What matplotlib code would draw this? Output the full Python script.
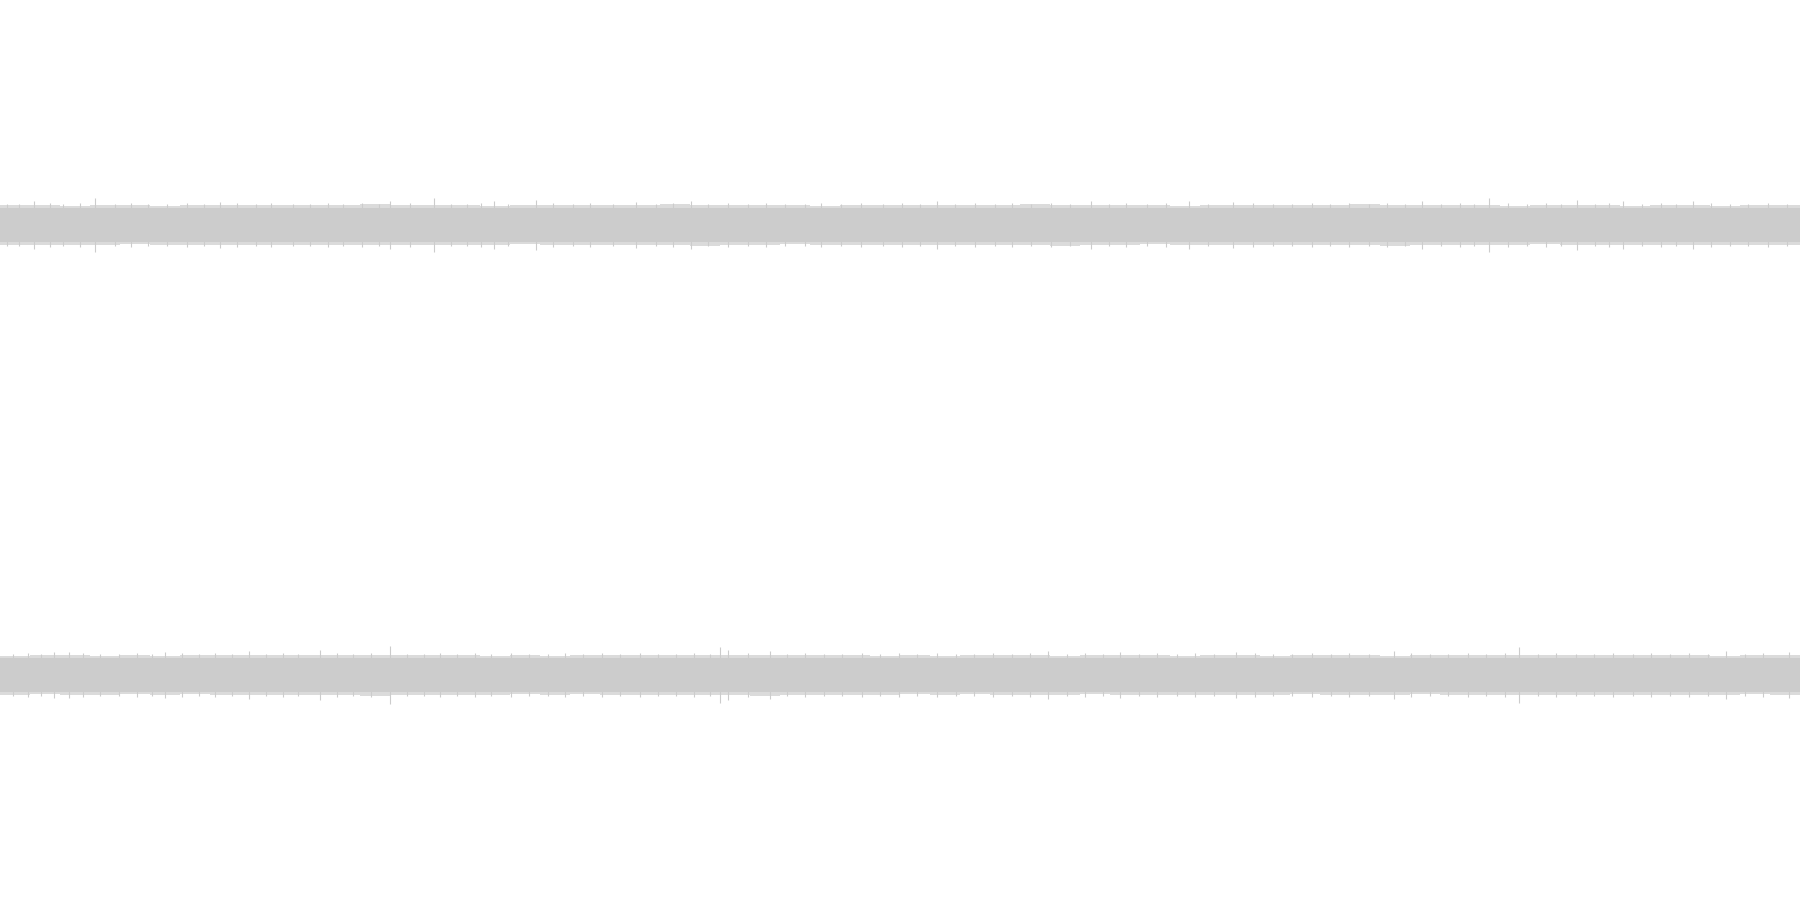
import matplotlib
matplotlib.use('Agg')
import matplotlib.pyplot as plt
import numpy as np


#------------------------- stereo noise waveform ----------------------------------
duration = 30.0          # seconds shown
wave_color = '#cccccc'

# outer edge of the noise band, one value per 0.5 s bin, in thousandths of full scale
left_hi = [87, 88, 86, 88, 87, 86, 88, 87, 89, 88, 88, 91, 92, 89, 87, 88, 86, 87, 88, 87,
           88, 90, 92, 91, 89, 88, 87, 86, 87, 88, 87, 88, 89, 90, 92, 91, 90, 88, 87, 86,
           87, 88, 87, 88, 89, 92, 91, 89, 88, 87, 86, 87, 88, 87, 86, 88, 87, 86, 88, 87]
left_lo = [88, 87, 87, 88, 86, 87, 88, 88, 89, 87, 89, 90, 91, 90, 88, 87, 87, 86, 88, 88,
           87, 89, 91, 92, 90, 88, 86, 87, 88, 87, 88, 87, 89, 91, 91, 92, 89, 88, 86, 87,
           88, 87, 88, 87, 90, 91, 92, 90, 87, 88, 87, 86, 87, 88, 87, 87, 88, 87, 87, 88]
right_hi = [86, 87, 88, 86, 87, 86, 87, 88, 87, 88, 90, 91, 91, 90, 88, 87, 86, 87, 86, 87,
            88, 87, 88, 90, 91, 91, 90, 88, 87, 86, 87, 86, 87, 88, 87, 86, 87, 88, 87, 86,
            88, 87, 86, 87, 88, 87, 86, 87, 88, 87, 88, 89, 90, 90, 89, 88, 87, 86, 87, 88]
right_lo = [87, 86, 88, 87, 86, 87, 86, 87, 88, 87, 89, 90, 92, 89, 87, 88, 87, 86, 87, 86,
            87, 88, 87, 89, 90, 92, 89, 87, 88, 87, 86, 87, 86, 87, 88, 87, 86, 87, 88, 87,
            87, 88, 87, 86, 87, 88, 87, 86, 87, 88, 87, 88, 90, 91, 88, 87, 88, 87, 86, 87]
core_level = 75          # solid part of the band, thousandths

# isolated peaks that stick out of the band
left_peak_t = [0.57, 1.58, 3.67, 6.50, 7.23, 8.23, 8.93, 10.60, 11.52, 15.62,
               18.18, 19.82, 20.55, 23.70, 24.82, 26.28, 27.05, 28.22]
left_peak_a = [0.105, 0.120, 0.104, 0.106, 0.118, 0.105, 0.112, 0.104, 0.108, 0.106,
               0.108, 0.107, 0.104, 0.105, 0.120, 0.110, 0.108, 0.106]
right_peak_t = [0.90, 1.15, 2.75, 4.15, 5.33, 6.50, 12.00, 12.13, 12.83, 17.47,
                18.67, 20.60, 23.23, 25.32, 28.77, 29.82]
right_peak_a = [0.103, 0.104, 0.104, 0.106, 0.112, 0.128, 0.126, 0.110, 0.108, 0.106,
                0.104, 0.104, 0.108, 0.124, 0.106, 0.104]

# smaller excursions just past the band edge
left_minor_t = [0.12, 0.31, 0.84, 1.05, 1.33, 1.91, 2.18, 2.46, 2.79, 3.12, 3.40, 3.95, 4.27,
                4.52, 4.88, 5.16, 5.47, 5.72, 6.03, 6.31, 6.84, 7.52, 7.78, 8.01, 8.47, 9.21,
                9.55, 9.84, 10.22, 10.93, 11.21, 11.80, 12.14, 12.46, 12.77, 13.08, 13.42,
                13.69, 14.02, 14.35, 14.71, 15.03, 15.34, 15.91, 16.25, 16.58, 16.87, 17.19,
                17.52, 17.83, 18.49, 18.77, 19.11, 19.44, 20.14, 20.89, 21.21, 21.53, 21.86,
                22.17, 22.49, 22.81, 23.12, 23.41, 24.02, 24.33, 24.57, 25.13, 25.45, 25.76,
                26.01, 26.59, 26.81, 27.36, 27.68, 27.93, 28.51, 28.83, 29.14, 29.47, 29.78]
left_minor_a = [0.095, 0.093, 0.097, 0.094, 0.096, 0.093, 0.098, 0.094, 0.095, 0.097, 0.093,
                0.096, 0.094, 0.099, 0.093, 0.095, 0.097, 0.094, 0.096, 0.093, 0.098, 0.095,
                0.094, 0.097, 0.093, 0.096, 0.094, 0.098, 0.095, 0.093, 0.097, 0.094, 0.096,
                0.093, 0.099, 0.095, 0.094, 0.097, 0.093, 0.096, 0.094, 0.098, 0.095, 0.093,
                0.097, 0.094, 0.096, 0.093, 0.098, 0.095, 0.094, 0.097, 0.093, 0.096, 0.094,
                0.098, 0.095, 0.093, 0.097, 0.094, 0.096, 0.093, 0.099, 0.095, 0.094, 0.097,
                0.093, 0.096, 0.094, 0.098, 0.095, 0.093, 0.097, 0.094, 0.096, 0.093, 0.098,
                0.095, 0.094, 0.097, 0.093]
right_minor_t = [0.21, 0.47, 0.68, 1.39, 1.67, 1.98, 2.29, 2.53, 3.04, 3.31, 3.58, 3.86, 4.43,
                 4.71, 4.97, 5.62, 5.88, 6.18, 6.79, 7.06, 7.33, 7.61, 7.92, 8.19, 8.51, 8.82,
                 9.13, 9.41, 9.72, 10.03, 10.34, 10.66, 10.97, 11.26, 11.57, 11.84, 12.46,
                 13.12, 13.41, 13.73, 14.04, 14.36, 14.67, 14.98, 15.29, 15.61, 15.93, 16.24,
                 16.55, 16.86, 17.17, 17.78, 18.09, 18.39, 18.98, 19.29, 19.61, 19.92, 20.24,
                 20.91, 21.22, 21.54, 21.86, 22.18, 22.49, 22.81, 23.52, 23.83, 24.14, 24.46,
                 24.77, 25.08, 25.63, 25.94, 26.26, 26.57, 26.89, 27.21, 27.52, 27.84, 28.15,
                 28.46, 29.08, 29.39]
right_minor_a = [0.094, 0.096, 0.093, 0.097, 0.095, 0.094, 0.098, 0.093, 0.096, 0.094, 0.097,
                 0.095, 0.093, 0.098, 0.094, 0.096, 0.093, 0.097, 0.095, 0.094, 0.098, 0.093,
                 0.096, 0.094, 0.097, 0.095, 0.093, 0.098, 0.094, 0.096, 0.093, 0.097, 0.095,
                 0.094, 0.098, 0.093, 0.096, 0.094, 0.097, 0.095, 0.093, 0.098, 0.094, 0.096,
                 0.093, 0.097, 0.095, 0.094, 0.098, 0.093, 0.096, 0.094, 0.097, 0.095, 0.093,
                 0.098, 0.094, 0.096, 0.093, 0.097, 0.095, 0.094, 0.098, 0.093, 0.096, 0.094,
                 0.097, 0.095, 0.093, 0.098, 0.094, 0.096, 0.093, 0.097, 0.095, 0.094, 0.098,
                 0.093, 0.096, 0.094, 0.097, 0.095, 0.093, 0.098]

channels = [(left_hi, left_lo, left_peak_t, left_peak_a, left_minor_t, left_minor_a),
            (right_hi, right_lo, right_peak_t, right_peak_a, right_minor_t, right_minor_a)]

fig, axes = plt.subplots(2, 1, figsize=(18, 9), dpi=100, sharex=True)
fig.subplots_adjust(left=0, right=1, bottom=0, top=1, hspace=0)

for ax, (hi, lo, pk_t, pk_a, mn_t, mn_a) in zip(axes, channels):
    hi = np.asarray(hi) / 1000.0
    lo = np.asarray(lo) / 1000.0
    bin_w = duration / len(hi)
    centers = (np.arange(len(hi)) + 0.5) * bin_w
    # fuzzy outer edge
    ax.bar(centers, hi + lo, bottom=-lo, width=bin_w, color=wave_color,
           alpha=0.7, linewidth=0)
    # dense core
    ax.axhspan(-core_level / 1000.0, core_level / 1000.0, color=wave_color, lw=0)
    # small and large single peaks
    mn_a = np.asarray(mn_a)
    ax.vlines(mn_t, -mn_a, mn_a, color=wave_color, lw=0.8)
    pk_a = np.asarray(pk_a)
    ax.vlines(pk_t, -pk_a, pk_a, color=wave_color, lw=0.8)
    ax.set_xlim(0, duration)
    ax.set_ylim(-1, 1)
    ax.axis('off')

fig.savefig("out.png", dpi=100, facecolor='white')
